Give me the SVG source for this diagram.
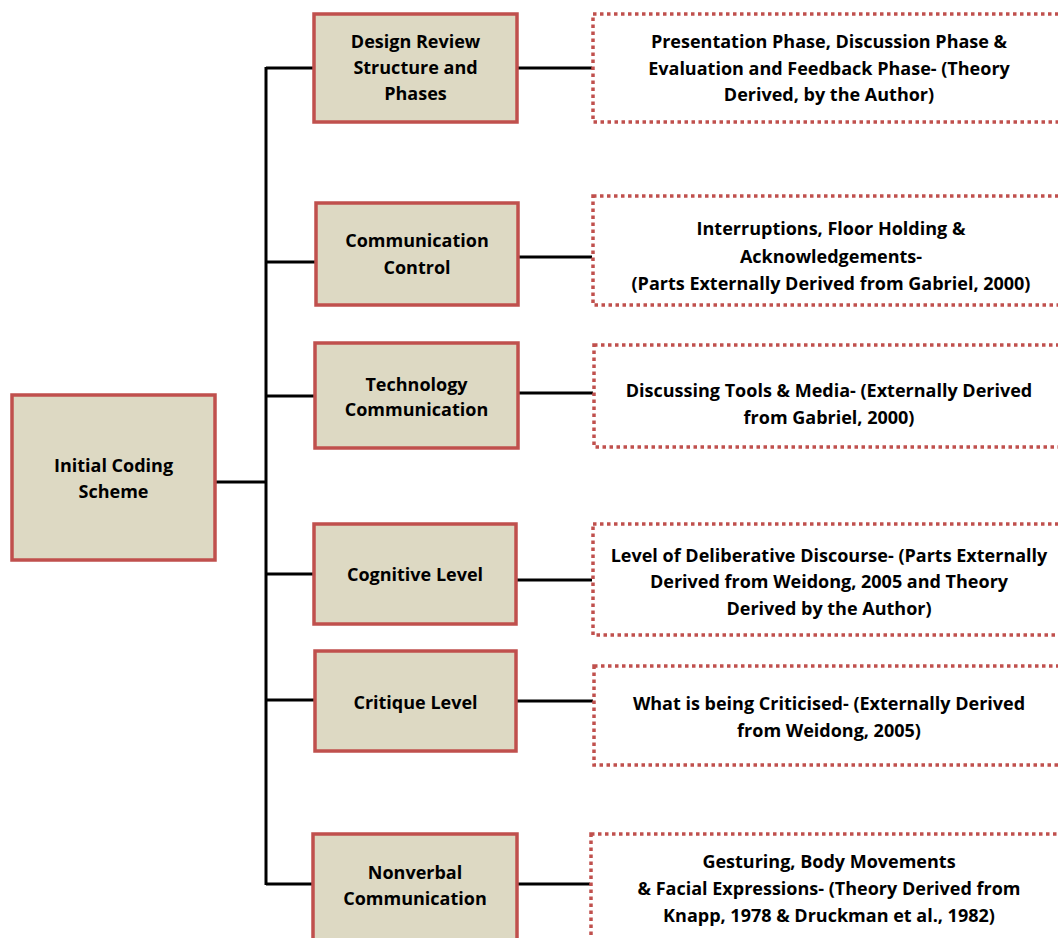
<svg xmlns="http://www.w3.org/2000/svg" width="1058" height="938" viewBox="0 0 1058 938">
<style>
.node{fill:#DDD9C3;stroke:#C0504D;stroke-width:3.5}
.note{fill:#FFFFFF;stroke:#C0504D;stroke-width:3.5;stroke-dasharray:3.5 3.5}
.conn{stroke:#000;stroke-width:3;fill:none}
text{font-family:"Open Sans","Noto Sans",sans-serif;font-weight:bold;font-size:18px;fill:#000;text-anchor:middle}
</style>
<rect width="1058" height="938" fill="#FFFFFF"/>
<g id="connectors">
<path class="conn" d="M216 482H266M266 67V885M266 68H313M518 68H592M266 262H315M519 257H592M266 396H314M519 393H593M266 574H313M517 580H592M266 700H314M517 701H593M266 884H312M518 884H590"/>
</g>
<g id="n-root"><rect class="node" x="12" y="395" width="203" height="165"/><text x="113.5" y="472">Initial Coding</text><text x="113.5" y="498">Scheme</text></g>
<g id="n-design"><rect class="node" x="314" y="14" width="203" height="108"/><text x="415.5" y="48">Design Review</text><text x="415.5" y="74">Structure and</text><text x="415.5" y="100">Phases</text></g>
<g id="n-commctl"><rect class="node" x="316" y="203" width="202" height="102"/><text x="417" y="247">Communication</text><text x="417" y="274">Control</text></g>
<g id="n-tech"><rect class="node" x="315" y="343" width="203" height="105"/><text x="416.5" y="391">Technology</text><text x="416.5" y="416">Communication</text></g>
<g id="n-cog"><rect class="node" x="314" y="524" width="202" height="100"/><text x="415" y="581">Cognitive Level</text></g>
<g id="n-crit"><rect class="node" x="315" y="651" width="201" height="100"/><text x="415.5" y="709">Critique Level</text></g>
<g id="n-nonverbal"><rect class="node" x="313" y="834" width="204" height="120"/><text x="415" y="879">Nonverbal</text><text x="415" y="905">Communication</text></g>
<g id="d-design"><rect class="note" x="593" y="14" width="480" height="108"/><text x="829" y="48">Presentation Phase, Discussion Phase &amp;</text><text x="829" y="75">Evaluation and Feedback Phase- (Theory</text><text x="829" y="101">Derived, by the Author)</text></g>
<g id="d-commctl"><rect class="note" x="593" y="196" width="480" height="109"/><text x="831" y="235">Interruptions, Floor Holding &amp;</text><text x="831" y="263">Acknowledgements-</text><text x="831" y="290">(Parts Externally Derived from Gabriel, 2000)</text></g>
<g id="d-tech"><rect class="note" x="594" y="345" width="480" height="102"/><text x="829" y="397">Discussing Tools &amp; Media- (Externally Derived</text><text x="829" y="424">from Gabriel, 2000)</text></g>
<g id="d-cog"><rect class="note" x="593" y="524" width="480" height="111"/><text x="829" y="562">Level of Deliberative Discourse- (Parts Externally</text><text x="829" y="588">Derived from Weidong, 2005 and Theory</text><text x="829" y="615">Derived by the Author)</text></g>
<g id="d-crit"><rect class="note" x="594" y="666" width="480" height="99"/><text x="829" y="710">What is being Criticised- (Externally Derived</text><text x="829" y="737">from Weidong, 2005)</text></g>
<g id="d-nonverbal"><rect class="note" x="591" y="834" width="480" height="120"/><text x="829" y="868">Gesturing, Body Movements</text><text x="829" y="895">&amp; Facial Expressions- (Theory Derived from</text><text x="829" y="922">Knapp, 1978 &amp; Druckman et al., 1982)</text></g>
</svg>
